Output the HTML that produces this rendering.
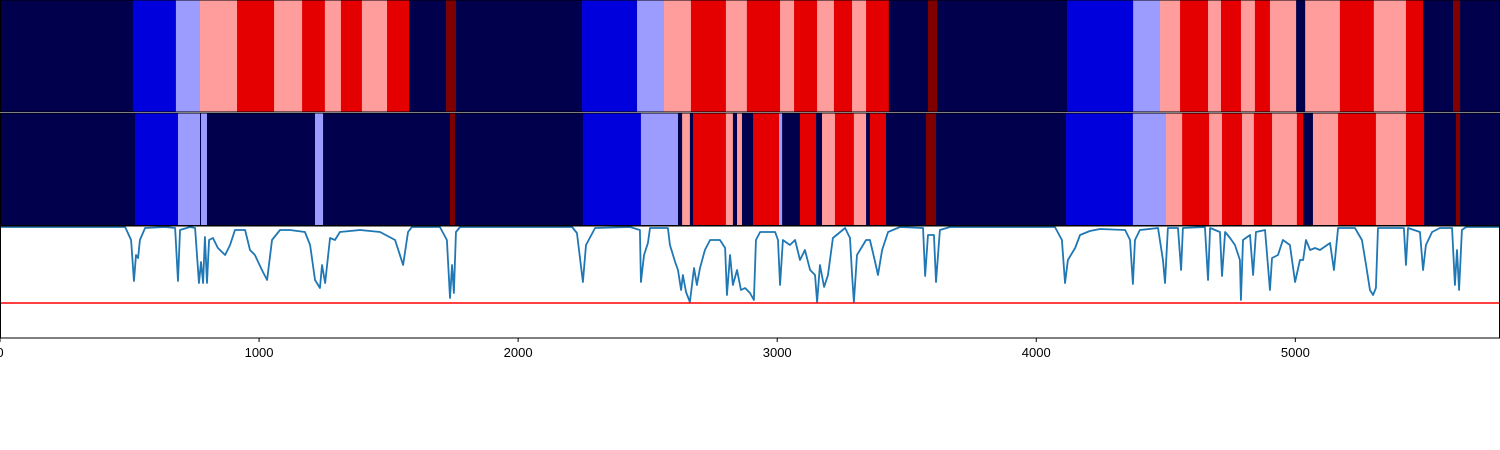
<!DOCTYPE html>
<html><head><meta charset="utf-8"><style>
html,body{margin:0;padding:0;background:#fff;}
svg{display:block;}
text{font-family:"Liberation Sans","DejaVu Sans",sans-serif;}
</style></head><body>
<svg id="chart" width="1500" height="450" viewBox="0 0 1500 450" xmlns="http://www.w3.org/2000/svg">
<g id="band1"></g>
<g id="band2"></g>
<g id="plot3"></g>
<g id="xaxis"></g>
</svg>
<script>
const xMax = 5790;
const classColors = ["#00004c","#0000dd","#9c9cff","#ff9c9c","#e40000","#800000"];
const band1Bounds = [0,513,679,772,915,1058,1166,1254,1316,1397,1494,1579,1722,1760,2247,2459,2563,2667,2802,2883,3011,3065,3154,3219,3289,3343,3431,3582,3617,4119,4374,4478,4555,4663,4713,4790,4844,4902,5003,5038,5172,5303,5427,5493,5609,5636,5790];
const band1Classes = [0,1,2,3,4,3,4,3,4,3,4,0,5,0, 1,2,3,4,3,4,3,4,3,4,3,4,0,5,0, 1,2,3,4,3,4,3,4,3,0,3,4,3,4,0,5,0];
const band2Bounds = [0,521,687,772,776,799,1216,1247,1737,1756,2250,2474,2617,2633,2663,2675,2802,2829,2845,2864,2907,3007,3019,3088,3150,3173,3223,3296,3343,3358,3420,3574,3613,4115,4373,4501,4563,4667,4717,4794,4840,4910,5006,5030,5068,5165,5311,5427,5497,5620,5636,5790];
const band2Classes = [0,1,2,0,2,0,2,0,5,0, 1,2,0,3,0,4,3,0,3,0,4,2,0,4,0,3,4,3,0,4,0,5,0, 1,2,3,4,3,4,3,4,3,4,0,3,4,3,4,0,5,0];
const lineX = [0,463,483,506,517,525,533,540,560,637,676,687,695,733,753,768,776,784,791,799,807,822,841,869,888,907,946,965,984,1011,1031,1050,1081,1119,1177,1197,1216,1235,1243,1255,1274,1293,1312,1390,1467,1525,1556,1575,1590,1698,1725,1737,1745,1752,1760,1776,2208,2227,2250,2262,2297,2432,2470,2474,2486,2501,2509,2578,2586,2606,2617,2629,2636,2648,2663,2679,2690,2702,2721,2741,2779,2799,2806,2818,2829,2845,2860,2876,2895,2910,2918,2934,2992,3003,3011,3022,3049,3069,3088,3107,3127,3146,3154,3165,3181,3196,3215,3262,3281,3289,3296,3308,3343,3358,3378,3389,3405,3428,3474,3563,3571,3582,3605,3613,3628,3667,4072,4099,4111,4122,4150,4169,4207,4246,4343,4362,4373,4381,4400,4470,4489,4497,4508,4547,4559,4566,4651,4663,4671,4709,4717,4729,4748,4767,4786,4790,4798,4825,4837,4848,4883,4902,4910,4933,4952,4979,4999,5018,5030,5041,5057,5076,5095,5134,5149,5165,5230,5257,5273,5288,5300,5311,5319,5419,5427,5435,5481,5493,5504,5528,5558,5605,5616,5624,5632,5643,5659,5790];
const lineY = [1.11,1.11,1.11,0.98,0.57,0.83,0.80,0.98,1.10,1.11,1.10,0.57,1.08,1.11,1.10,0.55,0.76,0.55,1.01,0.55,0.98,1.00,0.90,0.83,0.93,1.08,1.08,0.88,0.83,0.68,0.58,0.98,1.08,1.08,1.06,0.93,0.58,0.50,0.73,0.55,1.00,0.98,1.06,1.08,1.06,0.98,0.73,1.06,1.11,1.11,0.98,0.40,0.73,0.45,1.06,1.11,1.11,1.05,0.56,0.93,1.10,1.11,1.08,0.56,0.83,0.95,1.10,1.10,0.93,0.76,0.68,0.48,0.63,0.46,0.36,0.70,0.53,0.70,0.88,0.98,0.98,0.90,0.43,0.83,0.53,0.68,0.48,0.50,0.45,0.38,0.98,1.06,1.06,0.98,0.53,0.98,0.93,0.98,0.78,0.88,0.68,0.63,0.36,0.73,0.51,0.63,1.00,1.10,1.00,0.63,0.36,0.83,0.98,0.98,0.76,0.63,0.88,1.06,1.11,1.10,0.62,1.03,1.03,0.56,1.08,1.11,1.11,0.98,0.55,0.78,0.90,1.03,1.07,1.09,1.08,0.98,0.54,0.98,1.08,1.10,0.78,0.55,1.10,1.10,0.68,1.10,1.11,0.58,1.10,1.06,0.62,1.06,1.00,0.93,0.78,0.38,0.98,1.03,0.63,1.06,1.08,0.48,0.80,0.83,0.98,0.93,0.56,0.78,0.78,0.98,0.88,0.90,0.88,0.95,0.68,1.10,1.10,0.98,0.73,0.48,0.43,0.50,1.10,1.10,0.73,1.10,1.06,0.68,0.93,1.06,1.10,1.10,0.53,0.88,0.48,1.08,1.11,1.11];
const threshold = 0.35;
const yDomain = [0, 1.12];
const xTicks = [0,1000,2000,3000,4000,5000];
const xTickLabels = ["0","1000","2000","3000","4000","5000"];

const NS = "http://www.w3.org/2000/svg";
const W = 1500;
const sx = v => v / xMax * W;
const p3top = 226, p3bot = 338;
const sy = v => p3bot - (v - yDomain[0]) / (yDomain[1] - yDomain[0]) * (p3bot - p3top);
function mk(tag, attrs, parent){ const e=document.createElementNS(NS,tag); for(const k in attrs) e.setAttribute(k,attrs[k]); parent.appendChild(e); return e; }

function drawBand(g, bounds, classes, y0, y1, prefix){
  for(let i=0;i<classes.length;i++){
    const x0 = sx(bounds[i]), x1 = sx(bounds[i+1]);
    const r = mk('rect',{x:x0,y:y0,width:Math.max(0,x1-x0)+0.3,height:y1-y0,fill:classColors[classes[i]]},g);
    
    
  }
  const f = mk('rect',{x:0.5,y:y0,width:W-1,height:y1-y0,fill:'none',stroke:'#000','stroke-width':1},g);
  
  
}
drawBand(document.getElementById('band1'), band1Bounds, band1Classes, 0, 112, 'band1');
drawBand(document.getElementById('band2'), band2Bounds, band2Classes, 113, 225.5, 'band2');
// white separator
const sep = mk('rect',{x:0,y:112,width:W,height:1,fill:'#fff'},document.getElementById('band1'));



const g3 = document.getElementById('plot3');
const bg = mk('rect',{x:0,y:p3top,width:W,height:p3bot-p3top,fill:'#fff'},g3);


let d='';
for(let i=0;i<lineX.length;i++){ d += (i?'L':'M')+sx(lineX[i]).toFixed(2)+','+sy(lineY[i]).toFixed(2); }
const ln = mk('path',{d:d,fill:'none',stroke:'#1f77b4','stroke-width':1.8,'stroke-linejoin':'round'},g3);


const th = mk('line',{x1:0,x2:W,y1:sy(threshold),y2:sy(threshold),stroke:'#ff0000','stroke-width':1.5},g3);


const fr = mk('rect',{x:0.5,y:p3top,width:W-1,height:p3bot-p3top,fill:'none',stroke:'#000','stroke-width':1},g3);



const gx = document.getElementById('xaxis');
xTicks.forEach((t,i)=>{
  const x = sx(t);
  const tk = mk('line',{x1:x,x2:x,y1:p3bot,y2:p3bot+4,stroke:'#000','stroke-width':1},gx);
  
  
  const tx = mk('text',{x:x,y:p3bot+19,'text-anchor':'middle','font-size':13,fill:'#000'},gx);
  tx.textContent = xTickLabels[i];
  
  
});
</script>
</body></html>
